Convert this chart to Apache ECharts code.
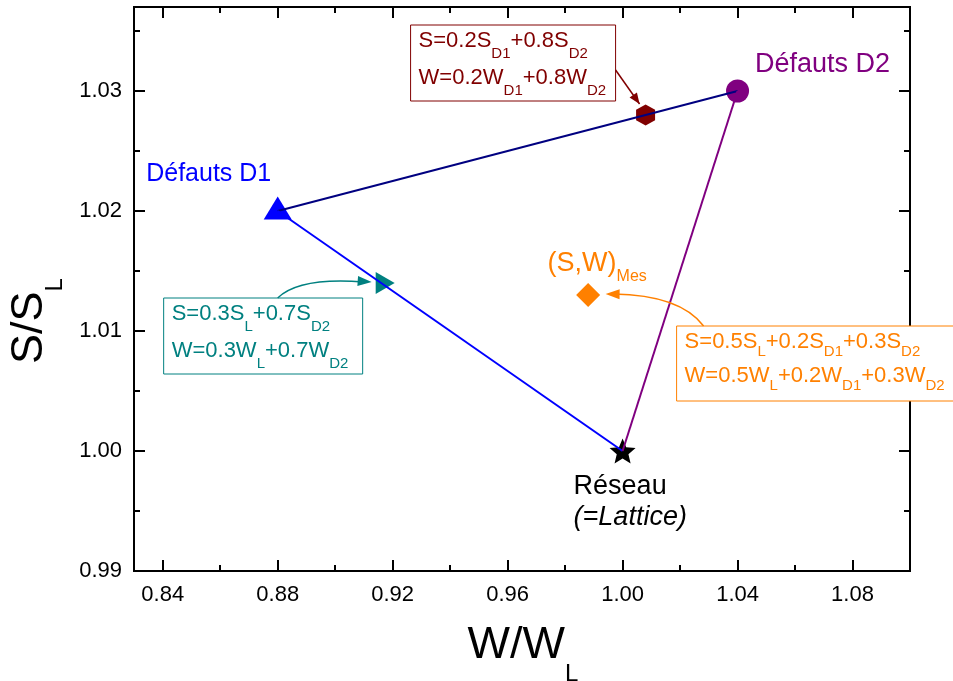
<!DOCTYPE html>
<html><head><meta charset="utf-8">
<script src="https://cdn.jsdelivr.net/npm/echarts@6/dist/echarts.min.js"></script>
<style>html,body{margin:0;padding:0;background:#fff}#c{width:953px;height:681px}</style>
</head><body><div id="c"></div>
<script>
// ---- data ----
const pointNames = ['D1', 'D2', 'Lattice', 'Mix_D1_D2', 'Mix_L_D1', 'Mes'];
const pointW = [0.88, 1.04, 1.00, 1.008, 0.916, 0.988];
const pointS = [1.02, 1.03, 1.00, 1.028, 1.014, 1.013];
const segments = [['D1', 'D2'], ['D1', 'Lattice'], ['D2', 'Lattice']];
const xMajorTicks = [0.84, 0.88, 0.92, 0.96, 1.00, 1.04, 1.08];
const xMinorTicks = [0.86, 0.90, 0.94, 0.98, 1.02, 1.06];
const yMajorTicks = [0.99, 1.00, 1.01, 1.02, 1.03];
const yMinorTicks = [0.995, 1.005, 1.015, 1.025, 1.035];
const xTitle = ['W/W', 'L'];
const yTitle = ['S/S', 'L'];

// ---- styles ----
const FONT = 'Liberation Sans, Arial, Helvetica, sans-serif';
const STAR = 'path://M0,-10 L2.65,-3.64 L9.511,-3.09 L4.28,1.39 L5.878,8.09 L0,4.5 L-5.878,8.09 L-4.28,1.39 L-9.511,-3.09 L-2.65,-3.64 Z';
const HEX = 'path://M0,-10 L8.66,-5 L8.66,5 L0,10 L-8.66,5 L-8.66,-5 Z';
const markerStyle = {
  D1: { symbol: 'triangle', size: [28, 23], color: '#0000FF', offset: [0, -3] },
  D2: { symbol: 'circle', size: 23, color: '#800080' },
  Lattice: { symbol: STAR, size: [26, 25], color: '#000000' },
  Mix_D1_D2: { symbol: HEX, size: [19, 21], color: '#800000' },
  Mix_L_D1: { symbol: 'triangle', size: [22, 19], rotate: -90, color: '#008080', offset: [4, 0] },
  Mes: { symbol: 'diamond', size: [24, 24], color: '#FF8000' }
};
const segColors = ['#000080', '#0000FF', '#800080'];

function ptIdx(n) { return pointNames.indexOf(n); }

function xAxisCfg(pos, ticks, len, showLabel) {
  return {
    type: 'value', min: 0.83, max: 1.10, position: pos,
    axisLine: { show: true, onZero: false, lineStyle: { color: '#000', width: 2 } },
    axisTick: { show: true, inside: true, length: len, customValues: ticks, lineStyle: { color: '#000', width: 2 } },
    axisLabel: { show: showLabel, customValues: ticks, formatter: v => v.toFixed(2), color: '#000', fontSize: 22, fontFamily: FONT, margin: 13 },
    splitLine: { show: false }
  };
}
function yAxisCfg(pos, ticks, len, showLabel) {
  return {
    type: 'value', min: 0.99, max: 1.037, position: pos,
    axisLine: { show: true, onZero: false, lineStyle: { color: '#000', width: 2 } },
    axisTick: { show: true, inside: true, length: len, customValues: ticks, lineStyle: { color: '#000', width: 2 } },
    axisLabel: { show: showLabel, customValues: ticks, formatter: v => v.toFixed(2), color: '#000', fontSize: 22, fontFamily: FONT, margin: 12 },
    splitLine: { show: false }
  };
}

const scatterData = pointNames.map((n, i) => {
  const st = markerStyle[n];
  return {
    name: n, value: [pointW[i], pointS[i]],
    symbol: st.symbol, symbolSize: st.size, symbolRotate: st.rotate || 0,
    symbolOffset: st.offset || [0, 0],
    itemStyle: { color: st.color, opacity: 1 }
  };
});

const lineSeries = segments.map((seg, k) => ({
  type: 'line', xAxisIndex: 0, yAxisIndex: 0, z: 5,
  symbol: 'none', silent: true,
  lineStyle: { color: segColors[k], width: 2 },
  data: seg.map(n => [pointW[ptIdx(n)], pointS[ptIdx(n)]])
}));

const chart = echarts.init(document.getElementById('c'), null, { renderer: 'canvas' });
chart.setOption({
  animation: false,
  backgroundColor: '#fff',
  grid: { left: 134, right: 43, top: 7, bottom: 110, containLabel: false },
  xAxis: [
    xAxisCfg('bottom', xMajorTicks, 11, true),
    xAxisCfg('bottom', xMinorTicks, 6, false),
    xAxisCfg('top', xMajorTicks, 11, false),
    xAxisCfg('top', xMinorTicks, 6, false)
  ],
  yAxis: [
    yAxisCfg('left', yMajorTicks, 11, true),
    yAxisCfg('left', yMinorTicks, 6, false),
    yAxisCfg('right', yMajorTicks, 11, false),
    yAxisCfg('right', yMinorTicks, 6, false)
  ],
  series: [
    { type: 'scatter', xAxisIndex: 0, yAxisIndex: 0, z: 3, silent: true, data: scatterData }
  ].concat(lineSeries)
});

// ---- annotations anchored to data points ----
function px(n) {
  const i = ptIdx(n);
  return chart.convertToPixel({ xAxisIndex: 0, yAxisIndex: 0 }, [pointW[i], pointS[i]]);
}
function arrowHead(tip, from, color, len, half) {
  const dx = tip[0] - from[0], dy = tip[1] - from[1];
  const L = Math.sqrt(dx * dx + dy * dy) || 1;
  const ux = dx / L, uy = dy / L;
  const bx = tip[0] - ux * len, by = tip[1] - uy * len;
  return {
    type: 'polygon', z: 20,
    shape: { points: [tip, [bx - uy * half, by + ux * half], [bx + uy * half, by - ux * half]] },
    style: { fill: color }
  };
}
function boxRich(color, subPad) {
  return {
    m: { fontSize: 22, lineHeight: 37, fill: color, fontFamily: FONT },
    s: { fontSize: 15, lineHeight: 10, padding: [subPad, 0, 0, 0], fill: color, fontFamily: FONT }
  };
}

const pD1 = px('D1'), pD2 = px('D2'), pL = px('Lattice');
const pA = px('Mix_D1_D2'), pB = px('Mix_L_D1'), pM = px('Mes');
const add = (p, d) => [p[0] + d[0], p[1] + d[1]];

const RED = '#800000', TEAL = '#008080', ORANGE = '#FF8000';
const g = [];

// Point labels
g.push({ type: 'text', z: 20, x: pD1[0] - 69, y: pD1[1] - 37,
  style: { text: 'Défauts D1', fill: '#0000FF', fontSize: 25, fontFamily: FONT, align: 'center', verticalAlign: 'middle' } });
g.push({ type: 'text', z: 20, x: pD2[0] + 85, y: pD2[1] - 26,
  style: { text: 'Défauts D2', fill: '#800080', fontSize: 27, fontFamily: FONT, align: 'center', verticalAlign: 'middle' } });
g.push({ type: 'text', z: 20, x: pL[0] - 49, y: pL[1] + 21,
  style: { text: '{a|Réseau}\n{b|(=Lattice)}', align: 'left', verticalAlign: 'top',
    rich: { a: { fontSize: 27, lineHeight: 30, fill: '#000', fontFamily: FONT },
            b: { fontSize: 27, lineHeight: 30, fill: '#000', fontFamily: FONT, fontStyle: 'italic' } } } });
g.push({ type: 'text', z: 20, x: pM[0] - 40.5, y: pM[1] - 31,
  style: { text: '{m|(S,W)}{s|Mes}', align: 'left', verticalAlign: 'middle',
    rich: { m: { fontSize: 27, lineHeight: 30, fill: ORANGE, fontFamily: FONT },
            s: { fontSize: 16, lineHeight: 10, padding: [26, 0, 0, 0], fill: ORANGE, fontFamily: FONT } } } });

// Dark red box
g.push({ type: 'rect', z: 15, shape: { x: pA[0] - 235, y: pA[1] - 90, width: 205, height: 76 },
  style: { fill: '#fff', stroke: RED, lineWidth: 1 } });
g.push({ type: 'text', z: 16, x: pA[0] - 227, y: pA[1] - 92.5,
  style: { text: '{m|S=0.2S}{s|D1}{m|+0.8S}{s|D2}\n{m|W=0.2W}{s|D1}{m|+0.8W}{s|D2}',
    align: 'left', verticalAlign: 'top', rich: boxRich(RED, 26) } });
{
  const s = add(pA, [-30, -45]), t = add(pA, [-6, -11]);
  g.push({ type: 'line', z: 20, shape: { x1: s[0], y1: s[1], x2: t[0], y2: t[1] }, style: { stroke: RED, lineWidth: 1.5 } });
  g.push(arrowHead(t, s, RED, 11, 4.5));
}

// Teal box
g.push({ type: 'rect', z: 15, shape: { x: pB[0] - 217.5, y: pB[1] + 15, width: 199, height: 76 },
  style: { fill: '#fff', stroke: TEAL, lineWidth: 1 } });
g.push({ type: 'text', z: 16, x: pB[0] - 209.5, y: pB[1] + 12.5,
  style: { text: '{m|S=0.3S}{s|L}{m|+0.7S}{s|D2}\n{m|W=0.3W}{s|L}{m|+0.7W}{s|D2}',
    align: 'left', verticalAlign: 'top', rich: boxRich(TEAL, 26) } });
{
  const s = add(pB, [-103.5, 15]), c = add(pB, [-82, -6]), t = add(pB, [-9.5, -1]);
  g.push({ type: 'bezierCurve', z: 20, shape: { x1: s[0], y1: s[1], cpx1: c[0], cpy1: c[1], x2: t[0] - 8, y2: t[1] },
    style: { stroke: TEAL, lineWidth: 1.5, fill: 'none' } });
  g.push(arrowHead(t, c, TEAL, 14, 5));
}

// Orange box
g.push({ type: 'rect', z: 15, shape: { x: pM[0] + 88.5, y: pM[1] + 31, width: 290, height: 75 },
  style: { fill: '#fff', stroke: ORANGE, lineWidth: 1 } });
g.push({ type: 'text', z: 16, x: pM[0] + 96.5, y: pM[1] + 30,
  style: { text: '{m|S=0.5S}{s|L}{m|+0.2S}{s|D1}{m|+0.3S}{s|D2}\n{m|W=0.5W}{s|L}{m|+0.2W}{s|D1}{m|+0.3W}{s|D2}',
    align: 'left', verticalAlign: 'top',
    rich: { m: { fontSize: 22, lineHeight: 34, fill: ORANGE, fontFamily: FONT },
            s: { fontSize: 15, lineHeight: 10, padding: [20, 0, 0, 0], fill: ORANGE, fontFamily: FONT } } } });
{
  const s = add(pM, [115.5, 31]), c = add(pM, [92, 0]), t = add(pM, [17.5, -1]);
  g.push({ type: 'bezierCurve', z: 20, shape: { x1: s[0], y1: s[1], cpx1: c[0], cpy1: c[1], x2: t[0] + 8, y2: t[1] },
    style: { stroke: ORANGE, lineWidth: 1.5, fill: 'none' } });
  g.push(arrowHead(t, c, ORANGE, 14, 5));
}

// Axis titles
g.push({ type: 'text', z: 20, x: 523, y: 645.5,
  style: { text: '{m|' + xTitle[0] + '}{s|' + xTitle[1] + '}', align: 'center', verticalAlign: 'middle',
    rich: { m: { fontSize: 45, lineHeight: 50, fill: '#000', fontFamily: FONT },
            s: { fontSize: 24, lineHeight: 10, padding: [58, 0, 0, 0], fill: '#000', fontFamily: FONT } } } });
g.push({ type: 'text', z: 20, x: 30, y: 321, rotation: Math.PI / 2,
  style: { text: '{m|' + yTitle[0] + '}{s|' + yTitle[1] + '}', align: 'center', verticalAlign: 'middle',
    rich: { m: { fontSize: 45, lineHeight: 50, fill: '#000', fontFamily: FONT },
            s: { fontSize: 24, lineHeight: 10, padding: [50, 0, 0, 0], fill: '#000', fontFamily: FONT } } } });

chart.setOption({ graphic: { elements: g } });
</script>
</body></html>
